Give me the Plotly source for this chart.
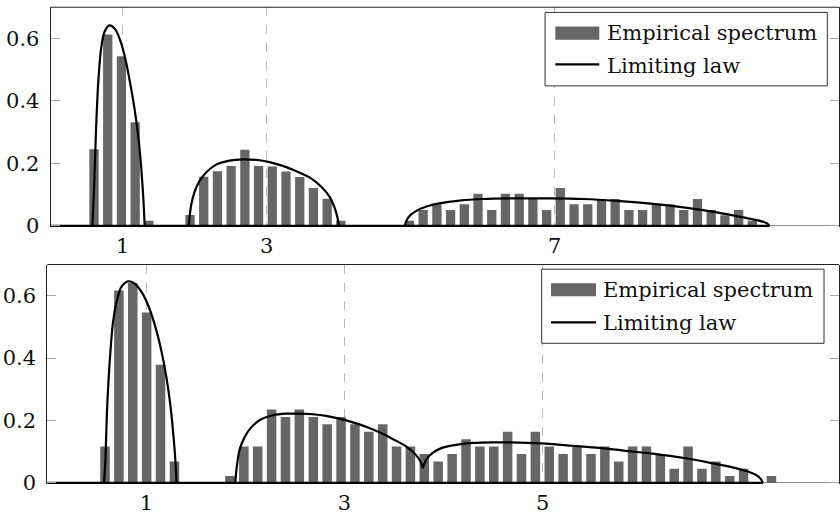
import plotly.graph_objects as go

# ---------------- data ----------------
# top panel: histogram bin centres and densities (non-empty bins)
top_bin_x = [0.602, 0.793, 0.983, 1.174, 1.364,
             1.936, 2.126, 2.317, 2.507, 2.698, 2.888, 3.079, 3.269, 3.460, 3.650, 3.841, 4.031,
             4.984, 5.174, 5.365, 5.555, 5.746, 5.936, 6.127, 6.317, 6.508, 6.698, 6.889, 7.079,
             7.270, 7.460, 7.651, 7.841, 8.032, 8.222, 8.413, 8.603, 8.794, 8.984, 9.175, 9.365,
             9.556, 9.746]
top_bin_h = [0.245, 0.613, 0.543, 0.332, 0.016,
             0.035, 0.157, 0.175, 0.192, 0.244, 0.192, 0.190, 0.174, 0.156, 0.121, 0.087, 0.016,
             0.016, 0.051, 0.069, 0.051, 0.069, 0.103, 0.051, 0.103, 0.103, 0.086, 0.051, 0.121,
             0.069, 0.069, 0.086, 0.086, 0.051, 0.051, 0.069, 0.069, 0.051, 0.086, 0.051, 0.034,
             0.051, 0.016]

# top panel: limiting law, one list per bulk
top_law_x = [
    [0.580, 0.606, 0.630, 0.662, 0.700, 0.745, 0.815, 0.898, 0.977, 1.047, 1.117, 1.177,
     1.223, 1.260, 1.288, 1.306],
    [1.918, 1.951, 1.997, 2.067, 2.160, 2.299, 2.484, 2.669, 2.855, 3.040, 3.225, 3.412,
     3.597, 3.759, 3.875, 3.944, 3.982, 4.004],
    [4.918, 4.950, 5.000, 5.080, 5.220, 5.400, 5.680, 6.000, 6.470, 6.940, 7.400, 7.860,
     8.330, 8.790, 9.250, 9.620, 9.850, 9.950, 9.985],
]
top_law_y = [
    [0.0, 0.138, 0.305, 0.462, 0.566, 0.619, 0.642, 0.629, 0.587, 0.525, 0.441, 0.357,
     0.274, 0.180, 0.086, 0.0],
    [0.0, 0.065, 0.107, 0.143, 0.171, 0.196, 0.209, 0.213, 0.211, 0.204, 0.192, 0.175,
     0.155, 0.125, 0.093, 0.058, 0.028, 0.0],
    [0.0, 0.020, 0.035, 0.048, 0.062, 0.072, 0.081, 0.086, 0.088, 0.088, 0.086, 0.080,
     0.071, 0.059, 0.043, 0.027, 0.016, 0.008, 0.0],
]
top_ticks = [1, 3, 7]

# bottom panel: histogram
bot_bin_x = [0.583, 0.723, 0.863, 1.003, 1.143, 1.284,
             1.844, 1.984, 2.124, 2.264, 2.404, 2.544, 2.685, 2.825, 2.965, 3.105, 3.245, 3.385,
             3.525, 3.665, 3.805, 3.945, 4.086, 4.226, 4.366, 4.506, 4.646, 4.786, 4.926, 5.066,
             5.206, 5.346, 5.487, 5.627, 5.767, 5.907, 6.047, 6.187, 6.327, 6.467, 6.607, 6.747,
             6.887, 7.027, 7.308]
bot_bin_h = [0.117, 0.617, 0.641, 0.546, 0.379, 0.069,
             0.022, 0.117, 0.117, 0.235, 0.211, 0.235, 0.211, 0.188, 0.211, 0.188, 0.164, 0.188,
             0.117, 0.117, 0.093, 0.069, 0.093, 0.140, 0.117, 0.117, 0.164, 0.093, 0.164, 0.117,
             0.093, 0.117, 0.093, 0.117, 0.069, 0.117, 0.117, 0.093, 0.045, 0.117, 0.045, 0.069,
             0.022, 0.045, 0.022]

bot_law_x = [
    [0.573, 0.587, 0.603, 0.630, 0.663, 0.704, 0.748, 0.815, 0.882, 0.950, 1.016, 1.084,
     1.151, 1.202, 1.242, 1.275, 1.295, 1.305],
    [1.897, 1.913, 1.940, 1.991, 2.058, 2.159, 2.276, 2.411, 2.545, 2.680, 2.815, 2.949,
     3.083, 3.218, 3.352, 3.486, 3.621, 3.722, 3.772, 3.790],
    [3.790, 3.822, 3.889, 3.990, 4.125, 4.292, 4.494, 4.763, 5.032, 5.300, 5.570, 5.800,
     6.107, 6.444, 6.712, 6.914, 7.048, 7.149, 7.200, 7.223],
]
bot_law_y = [
    [0.0, 0.073, 0.230, 0.387, 0.513, 0.586, 0.628, 0.646, 0.639, 0.613, 0.571, 0.508,
     0.424, 0.340, 0.251, 0.146, 0.063, 0.0],
    [0.0, 0.052, 0.105, 0.146, 0.178, 0.204, 0.217, 0.222, 0.222, 0.220, 0.215, 0.206,
     0.194, 0.180, 0.162, 0.141, 0.117, 0.089, 0.065, 0.047],
    [0.047, 0.073, 0.096, 0.113, 0.122, 0.128, 0.130, 0.129, 0.126, 0.119, 0.112, 0.104,
     0.094, 0.079, 0.063, 0.050, 0.039, 0.026, 0.013, 0.0],
]
bot_ticks = [1, 3, 5]

y_ticks = [0, 0.2, 0.4, 0.6]
y_ticktext = ["0", "0.2", "0.4", "0.6"]
legend_labels = ["Empirical spectrum", "Limiting law"]

# ---------------- style ----------------
W, H = 840, 522
FONT = "DejaVu Serif"
FS = 21
BAR_COLOR = "#666666"
LAW_W = 2.2

def px(x):
    return x / W

def py(y):
    return 1 - y / H

fig = go.Figure()

panels = [
    dict(xa="x", ya="y", bx=top_bin_x, bh=top_bin_h, lx=top_law_x, ly=top_law_y, bw=0.129),
    dict(xa="x2", ya="y2", bx=bot_bin_x, bh=bot_bin_h, lx=bot_law_x, ly=bot_law_y, bw=0.096),
]
for p in panels:
    fig.add_trace(go.Bar(x=p["bx"], y=p["bh"], width=p["bw"], marker_color=BAR_COLOR,
                         marker_line_width=0, xaxis=p["xa"], yaxis=p["ya"],
                         name=legend_labels[0]))
    # zero part of the limiting law, from 0 to the end of its support
    fig.add_trace(go.Scatter(x=[0, p["lx"][-1][-1]], y=[0, 0], mode="lines",
                             line=dict(color="black", width=LAW_W),
                             xaxis=p["xa"], yaxis=p["ya"], hoverinfo="skip"))
    for xs, ys in zip(p["lx"], p["ly"]):
        fig.add_trace(go.Scatter(x=xs, y=ys, mode="lines",
                                 line=dict(color="black", width=LAW_W, shape="spline", smoothing=0.8),
                                 xaxis=p["xa"], yaxis=p["ya"], name=legend_labels[1]))

YMIN = -0.004
axis_font = dict(family=FONT, size=FS, color="#111")

def xaxis_cfg(left_px, rng, ticks, anchor):
    return dict(domain=[px(left_px), 1], anchor=anchor, range=rng, tickvals=ticks,
                ticktext=[str(t) for t in ticks], ticks="", showline=False,
                showgrid=True, gridcolor="#b8b8b8", gridwidth=1, griddash="dash",
                zeroline=False, tickfont=axis_font, ticklabelstandoff=4, fixedrange=True)

def yaxis_cfg(top_px, zero_px, anchor):
    scale = (zero_px - top_px) / 0.7
    bottom_px = zero_px - YMIN * scale
    return dict(domain=[py(bottom_px), py(top_px)], anchor=anchor, range=[YMIN, 0.7],
                tickvals=y_ticks, ticktext=y_ticktext, ticks="inside", ticklen=9,
                tickcolor="#aaaaaa", tickwidth=1, showline=True, linecolor="#222",
                linewidth=1, mirror="ticks", showgrid=False, zeroline=True,
                zerolinecolor="#8c8c8c", zerolinewidth=1, tickfont=axis_font,
                ticklabelstandoff=6, fixedrange=True)

fig.update_layout(
    width=W, height=H, margin=dict(l=0, r=0, t=0, b=0),
    plot_bgcolor="white", paper_bgcolor="white", showlegend=False,
    font=dict(family=FONT, size=FS, color="#111"),
    xaxis=xaxis_cfg(50.7, [0, 10.95], top_ticks, "y"),
    yaxis=yaxis_cfg(7.4, 230.7, "x"),
    xaxis2=xaxis_cfg(47.3, [0, 7.99], bot_ticks, "y2"),
    yaxis2=yaxis_cfg(270.2, 493.3, "x2"),
)

shapes = []
annotations = []
# top borders of both panels
for yref in ["y domain", "y2 domain"]:
    xref = "x domain" if yref == "y domain" else "x2 domain"
    shapes.append(dict(type="line", xref=xref, yref=yref, x0=0, x1=1, y0=1, y1=1,
                       line=dict(color="#222", width=1), layer="above"))

def add_legend(x0, x1, y0, y1, sym_x0, sym_x1, bar_y0, bar_y1, line_y, text_x, t1_y, t2_y):
    shapes.append(dict(type="rect", xref="paper", yref="paper", x0=px(x0), x1=px(x1),
                       y0=py(y1), y1=py(y0), fillcolor="white",
                       line=dict(color="#333", width=1), layer="above"))
    shapes.append(dict(type="rect", xref="paper", yref="paper", x0=px(sym_x0), x1=px(sym_x1),
                       y0=py(bar_y1), y1=py(bar_y0), fillcolor=BAR_COLOR,
                       line=dict(width=0), layer="above"))
    shapes.append(dict(type="line", xref="paper", yref="paper", x0=px(sym_x0), x1=px(sym_x1),
                       y0=py(line_y), y1=py(line_y), line=dict(color="black", width=LAW_W),
                       layer="above"))
    for txt, ty in zip(legend_labels, [t1_y, t2_y]):
        annotations.append(dict(text=txt, xref="paper", yref="paper", x=px(text_x), y=py(ty),
                                xanchor="left", yanchor="middle", showarrow=False,
                                font=dict(family=FONT, size=FS, color="#111")))

add_legend(545.7, 828.3, 12.7, 87.7, 556, 600, 27, 40.7, 65.7, 606, 34, 67)
add_legend(542.3, 825.0, 275.0, 350.7, 551.7, 596.7, 289.3, 302.7, 329.3, 602, 296.5, 329.5)

fig.update_layout(shapes=shapes, annotations=annotations)
fig.write_html("out.html")
